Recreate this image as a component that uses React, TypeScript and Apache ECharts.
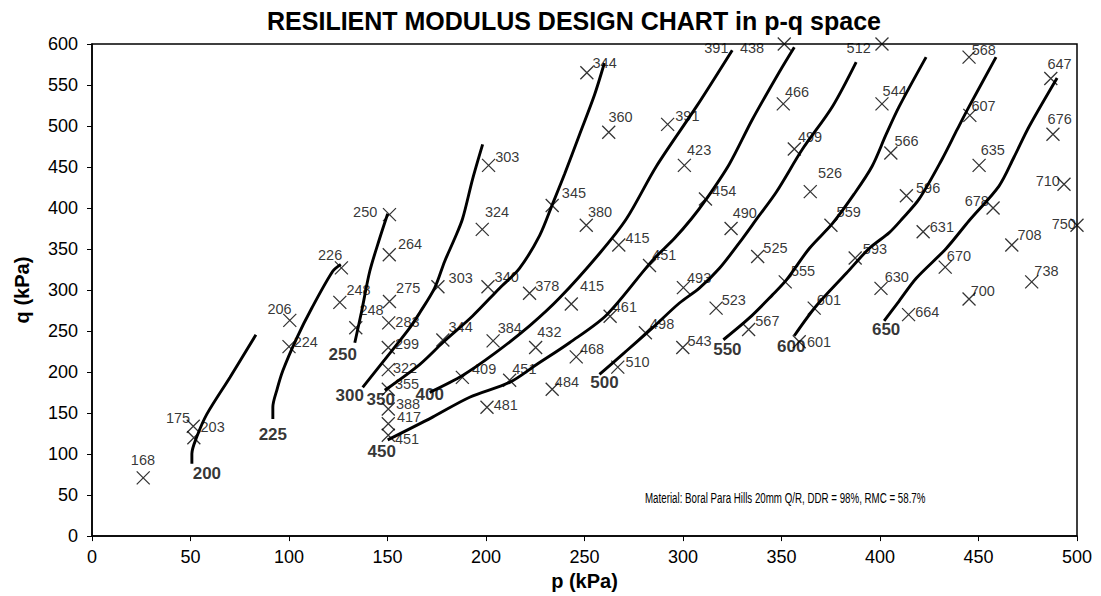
import React, { useEffect, useRef } from "react";
import * as echarts from "echarts";

const TITLE = "RESILIENT MODULUS DESIGN CHART in p-q space";
const X_NAME = "p (kPa)";
const Y_NAME = "q (kPa)";
const NOTE = "Material: Boral Para Hills 20mm Q/R, DDR = 98%, RMC = 58.7%";

// Measured test points: p (kPa), q (kPa), resilient modulus label (MPa)
const POINT_P = [
  26, 51.4, 51.7, 100.4, 100, 126.6, 125.8, 133.9, 151, 150.9,
  151, 150.6, 150.4, 150.4, 150.4, 150.4, 150.4, 150.4, 175.6, 178.1,
  188, 200.5, 212, 203.6, 225.2, 201, 222.1, 198.1, 201.3, 251.2,
  233.6, 262.3, 250.9, 243.3, 245.8, 233.6, 292.2, 300.7, 267.4, 283,
  263, 266.9, 280.9, 300.2, 299.9, 311.4, 351.4, 350.9, 356.5, 324.4,
  364.6, 337.9, 316.8, 351.9, 333.3, 375.1, 366.6, 359, 401, 401,
  405.5, 413.4, 387.4, 400.5, 421.9, 414.5, 433.1, 445.2, 445.2, 445.6,
  450.3, 457.4, 466.9, 477, 486.7, 487.8, 493.4, 500,
];
const POINT_Q = [
  71, 134, 120, 263, 231, 327, 285, 254, 392, 343,
  286, 260, 230, 203, 179, 155, 137, 123, 304, 239,
  193.5, 157, 190, 238, 230, 304, 296, 374, 452, 565,
  403, 492.5, 379, 283, 218.5, 179, 502, 452, 355, 330,
  268, 206, 248, 303, 230, 411, 600, 527, 472, 375,
  420, 341, 278, 310, 252, 379, 278, 237, 600, 527,
  467, 415, 339, 302, 371, 270, 328, 289, 584, 513,
  452, 400, 355, 310, 558, 490, 429, 379,
];
const POINT_MR = [
  168, 175, 203, 206, 224, 226, 248, 248, 250, 264,
  275, 283, 299, 322, 355, 388, 417, 451, 303, 344,
  409, 481, 451, 384, 432, 340, 378, 324, 303, 344,
  345, 360, 380, 415, 468, 484, 391, 423, 415, 451,
  461, 510, 498, 493, 543, 454, 438, 466, 499, 490,
  526, 525, 523, 555, 567, 559, 601, 601, 512, 544,
  566, 596, 593, 630, 631, 664, 670, 700, 568, 607,
  635, 678, 708, 738, 647, 676, 710, 750,
];
// label whose marker lies beyond the top of the plot
const OFFSCALE_P = [325];
const OFFSCALE_Q = [600];
const OFFSCALE_MR = [391];

// Resilient-modulus contours (MPa) and their traced paths [p, q]
const CONTOUR_MR = [200, 225, 250, 300, 350, 400, 450, 500, 550, 600, 650];
const C200 = [[50.7, 88.3], [50.7, 100.4], [53.2, 121], [58.3, 148.7], [70, 193.5], [83.2, 245.5]];
const C225 = [[91.8, 142.7], [91.8, 157.2], [93.8, 177.8], [96.9, 201.9], [104, 241.8], [111.6, 278.1], [122.2, 322.9], [126.3, 331.3]];
const C250 = [[133.4, 235.8], [136.9, 274.5], [141, 322.9], [146, 362.8], [150.1, 393]];
const C300 = [[137.4, 181.4], [148.6, 215.2], [161.3, 253.9], [166.3, 272.1], [173.9, 302.3], [179, 334.9], [184.1, 362.8], [188.1, 386.9], [193.2, 435.3], [198.3, 477.6]];
const C350 = [[148.6, 177.8], [166.3, 209.2], [178, 235.8], [193.2, 268.4], [206.9, 302.3], [217, 326.5], [227.2, 366.4], [233.8, 405.1], [239.9, 441.4], [247.5, 489.7], [255.1, 538.1], [260.1, 576.8]];
const C400 = [[171.4, 175.3], [188.1, 195.9], [204.9, 223.7], [222.1, 256.3], [237.3, 290.2], [257.6, 344.6], [271.3, 386.9], [286.5, 451], [306.8, 523.6], [325, 592.5]];
const C450 = [[150.1, 117.3], [172.9, 145.1], [191.7, 169.3], [212, 187.4], [225.7, 209.2], [242.4, 235.8], [261.2, 269.6], [284.5, 336.2], [295.6, 362.8], [304.3, 386.9], [311.9, 411.1], [323.5, 453.4], [335.2, 507.9], [348.9, 565.9], [356.5, 596.1]];
const C500 = [[257.6, 197.1], [270.3, 223.7], [284.5, 253.9], [298.2, 284.2], [308.3, 302.3], [318.5, 326.5], [330.2, 362.8], [337.5, 387], [347.4, 419.6], [360.6, 471.6], [375.8, 523.6], [387.9, 578]];
const C550 = [[320.5, 239.4], [333.7, 266], [345.3, 293.8], [352.4, 312], [364.1, 350.7], [375.8, 380.9], [386.9, 417.2], [396, 451], [403.1, 489.7], [409.7, 523.6], [423.4, 584]];
const C600 = [[356.5, 244.3], [367.6, 280.5], [382.9, 320.4], [394.5, 350.7], [404.7, 370], [411.3, 386.9], [419.9, 411.1], [431.5, 459.5], [439.2, 495.8], [445.2, 523.6], [458.9, 584]];
const C650 = [[402.1, 262.4], [409.7, 286.6], [418.4, 314.4], [433.6, 350.7], [445.2, 384.5], [460.4, 426.8], [468, 461.9], [475.7, 499.4], [489.9, 558.6]];
const CONTOURS = [C200, C225, C250, C300, C350, C400, C450, C500, C550, C600, C650];

const X_TICKS = [0, 50, 100, 150, 200, 250, 300, 350, 400, 450, 500];
const Y_TICKS = [0, 50, 100, 150, 200, 250, 300, 350, 400, 450, 500, 550, 600];

// ---- styling (label placement, px relative to marker centre) ----
const LABEL_NUDGE = [
  [-13, -18], [-28, -8], [6, -11], [-23, -11], [4, -5], [-24, -13], [6, -12], [3, -18], [-37, -3], [8, -11],
  [6, -14], [6, -1], [6, -3], [4, -2], [6, -5], [7, -5], [8, -7], [6, 4], [10, -9], [5, -13],
  [9, -8], [6, -2], [2, -11], [4, -13], [1, -15], [6, -10], [5, -7], [2, -17], [6, -8], [5, -10],
  [9, -13], [-1, -15], [1, -13], [8, -18], [3, -8], [2, -7], [7, -8], [2, -15], [6, -7], [2, -10],
  [2, -9], [7, -5], [4, -9], [3, -10], [4, -6], [6, -8], [-45, 4], [1, -12], [3, -12], [1, -16],
  [7, -19], [5, -8], [5, -8], [5, -11], [6, -8], [5, -13], [2, -8], [7, 0], [-36, 4], [0, -13],
  [3, -12], [9, -8], [7, -9], [3, -11], [6, -5], [6, -3], [1, -11], [1, -8], [2, -7], [1, -9],
  [1, -15], [-29, -7], [5, -10], [2, -11], [-4, -14], [-6, -15], [-29, -3], [-26, -1],
];
const OFFSCALE_NUDGE = [[-28, 4]];
const CONTOUR_LABEL_NUDGE = [
  [15, 10], [0, 15], [-12, 12], [-13, 8], [-4, 9], [0, 2], [-6, 12], [5, 8], [4, 10], [-3, 11], [2, 9],
];

const FONT = "'Liberation Sans', Arial, Helvetica, sans-serif";
const MARK = 13;

export default function App() {
  const ref = useRef<HTMLDivElement>(null);

  useEffect(() => {
    if (!ref.current) return;
    const chart = echarts.init(ref.current, null, { renderer: "svg" });

    const pointData = POINT_P.map((p, i) => {
      const [dx, dy] = LABEL_NUDGE[i];
      return {
        value: [p, POINT_Q[i], POINT_MR[i]],
        label: { offset: [dx - MARK / 2, dy] },
      };
    });
    const offData = OFFSCALE_P.map((p, i) => {
      const [dx, dy] = OFFSCALE_NUDGE[i];
      return {
        value: [p, OFFSCALE_Q[i], OFFSCALE_MR[i]],
        label: { offset: [dx - MARK / 2, dy] },
      };
    });
    const contourLabelData = CONTOURS.map((c, i) => ({
      value: [c[0][0], c[0][1], CONTOUR_MR[i]],
      label: { offset: CONTOUR_LABEL_NUDGE[i] },
    }));

    const pointLabel = {
      show: true,
      position: "right",
      distance: 0,
      formatter: (d: any) => String(d.value[2]),
      color: "#000",
      fontFamily: FONT,
      fontSize: 14.5,
    };

    const series: any[] = CONTOURS.map((c, i) => ({
      name: "Mr " + CONTOUR_MR[i],
      type: "line",
      data: c,
      showSymbol: false,
      smooth: 0.3,
      clip: false,
      lineStyle: { color: "#000", width: 2.9 },
      z: 2,
    }));
    series.push({
      name: "tests",
      type: "scatter",
      data: pointData,
      symbol: "path://M0 0L10 10M10 0L0 10",
      symbolSize: MARK,
      clip: false,
      itemStyle: { color: "rgba(0,0,0,0)", borderColor: "#000", borderWidth: 1.3 },
      label: pointLabel,
      z: 3,
    });
    series.push({
      name: "offscale",
      type: "scatter",
      data: offData,
      symbol: "rect",
      symbolSize: MARK,
      clip: false,
      itemStyle: { color: "rgba(0,0,0,0)", borderWidth: 0 },
      label: pointLabel,
      z: 3,
    });
    series.push({
      name: "contour labels",
      type: "scatter",
      data: contourLabelData,
      symbolSize: 1,
      clip: false,
      itemStyle: { color: "rgba(0,0,0,0)" },
      label: {
        show: true,
        position: "inside",
        formatter: (d: any) => String(d.value[2]),
        color: "#000",
        fontFamily: FONT,
        fontSize: 17,
        fontWeight: "bold",
      },
      z: 4,
    });

    chart.setOption({
      animation: false,
      backgroundColor: "#fff",
      title: {
        text: TITLE,
        left: 569,
        top: 3,
        textAlign: "center",
        textStyle: { fontFamily: FONT, fontSize: 25, fontWeight: "bold", color: "#000" },
      },
      grid: {
        left: 92,
        right: 24,
        top: 44,
        bottom: 56,
        show: true,
        borderColor: "#000",
        borderWidth: 1.5,
        backgroundColor: "transparent",
      },
      xAxis: {
        type: "value",
        min: X_TICKS[0],
        max: X_TICKS[X_TICKS.length - 1],
        interval: 50,
        name: X_NAME,
        nameLocation: "middle",
        nameGap: 27,
        nameTextStyle: { fontFamily: FONT, fontSize: 20, fontWeight: "bold", color: "#000" },
        axisLine: { show: true, onZero: false, lineStyle: { color: "#000", width: 1.5 } },
        axisTick: { show: true, inside: false, length: 5, lineStyle: { color: "#000" } },
        axisLabel: { fontFamily: FONT, fontSize: 18, color: "#000", margin: 12 },
        splitLine: { show: false },
      },
      yAxis: {
        type: "value",
        min: Y_TICKS[0],
        max: Y_TICKS[Y_TICKS.length - 1],
        interval: 50,
        name: Y_NAME,
        nameLocation: "middle",
        nameGap: 60,
        nameTextStyle: { fontFamily: FONT, fontSize: 20, fontWeight: "bold", color: "#000" },
        axisLine: { show: true, onZero: false, lineStyle: { color: "#000", width: 1.5 } },
        axisTick: { show: true, inside: false, length: 5, lineStyle: { color: "#000" } },
        axisLabel: { fontFamily: FONT, fontSize: 18, color: "#000", margin: 14 },
        splitLine: { show: false },
      },
      graphic: [
        {
          type: "text",
          x: 645,
          y: 498,
          scaleX: 0.65,
          style: {
            text: NOTE,
            fontFamily: FONT,
            fontSize: 15,
            fill: "#000",
            verticalAlign: "middle",
            align: "left",
          },
          z: 10,
        },
      ],
      series,
    });

    return () => chart.dispose();
  }, []);

  return (
    <div
      ref={ref}
      style={{ position: "fixed", left: 0, top: 0, width: 1101, height: 596, background: "#fff" }}
    />
  );
}
